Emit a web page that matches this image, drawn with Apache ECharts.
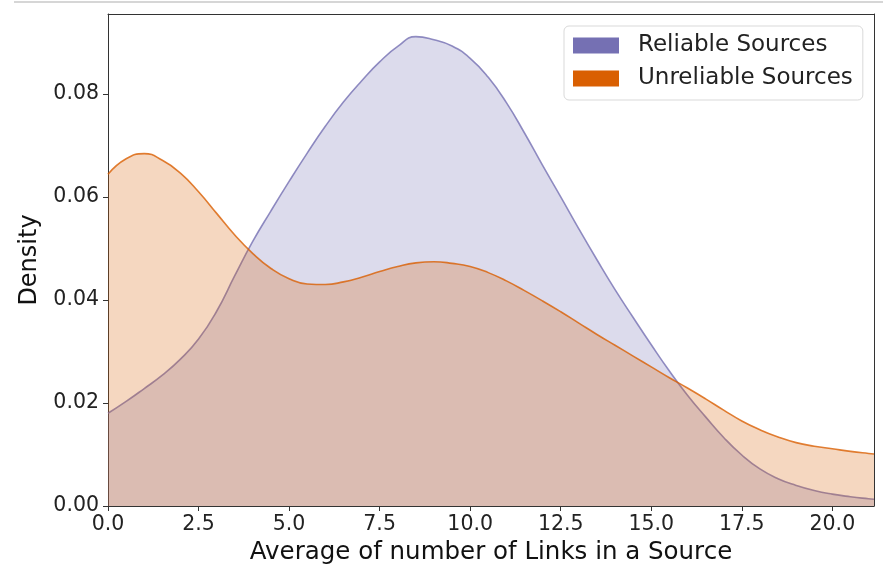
<!DOCTYPE html>
<html>
<head>
<meta charset="utf-8">
<script src="https://cdn.jsdelivr.net/npm/echarts@6/dist/echarts.min.js"></script>
<style>
html,body{margin:0;padding:0;background:#fff;}
#chart{width:883px;height:570px;}
</style>
</head>
<body>
<div id="chart"></div>
<script>
const seriesNames = ['Reliable Sources', 'Unreliable Sources'];
const seriesColors = ['#7570b3', '#d95f02'];

const xValues = [0, 0.5, 1, 1.5, 2, 2.5, 3, 3.5, 4, 4.5, 5, 5.5, 6, 6.5, 7, 7.5, 8, 8.5, 9, 9.5, 10,
  10.5, 11, 11.5, 12, 12.5, 13, 13.5, 14, 14.5, 15, 15.5, 16, 16.5, 17, 17.5, 18, 18.5, 19, 19.5, 20, 20.5, 21, 21.15];

const reliableY = [0.0180, 0.0203, 0.0228, 0.0254, 0.0285, 0.0324, 0.0378, 0.0447, 0.0514, 0.0573, 0.0630,
  0.0685, 0.0737, 0.0784, 0.0825, 0.0862, 0.0892, 0.0911, 0.0905, 0.0893, 0.0869,
  0.0832, 0.0783, 0.0724, 0.0661, 0.0600, 0.0538, 0.0478, 0.0420, 0.0366, 0.0313,
  0.0262, 0.0215, 0.0173, 0.0133, 0.0099, 0.0072, 0.0053, 0.0040, 0.0030, 0.0023, 0.0018, 0.0014, 0.0013];

const unreliableY = [0.0644, 0.0674, 0.0684, 0.0671, 0.0646, 0.0610, 0.0568, 0.0526, 0.0490, 0.0461, 0.0441,
  0.0431, 0.0430, 0.0435, 0.0444, 0.0455, 0.0465, 0.0472, 0.0474, 0.0471, 0.0465,
  0.0453, 0.0437, 0.0418, 0.0398, 0.0377, 0.0355, 0.0333, 0.0312, 0.0291, 0.0270,
  0.0249, 0.0229, 0.0208, 0.0186, 0.0165, 0.0148, 0.0134, 0.0123, 0.0116, 0.0111, 0.0106, 0.0102, 0.0101];

const xTicks = [0, 2.5, 5, 7.5, 10, 12.5, 15, 17.5, 20];
const yTicks = [0, 0.02, 0.04, 0.06, 0.08];
const xMin = 0, xMax = 21.15, yMin = 0, yMax = 0.0955;

const font = 'DejaVu Sans';
const pairs = (xs, ys) => xs.map((x, i) => [x, ys[i]]);

const chart = echarts.init(document.getElementById('chart'), null, {renderer: 'canvas'});
chart.setOption({
  animation: false,
  backgroundColor: '#fff',
  textStyle: {fontFamily: font},
  graphic: [{
    type: 'line', silent: true,
    shape: {x1: 14, y1: 2, x2: 883, y2: 2},
    style: {stroke: '#c8c8c8', lineWidth: 1.5}
  }],
  grid: {left: 108, right: 9, top: 14, bottom: 62, containLabel: false},
  legend: {
    orient: 'vertical',
    left: 564, top: 26,
    padding: [8, 10, 10, 9],
    itemWidth: 46, itemHeight: 16, itemGap: 10,
    icon: 'rect',
    backgroundColor: 'rgba(255,255,255,0.8)',
    borderColor: '#d9d9d9', borderWidth: 1, borderRadius: 5,
    textStyle: {fontFamily: font, fontSize: 23, color: '#222', padding: [0, 0, 0, 14]},
    data: seriesNames.map((n, i) => ({name: n, itemStyle: {color: seriesColors[i], opacity: 1}}))
  },
  xAxis: [{
    type: 'value', min: xMin, max: xMax,
    name: 'Average of number of Links in a Source',
    nameLocation: 'middle', nameGap: 34,
    nameTextStyle: {fontFamily: font, fontSize: 24.5, color: '#111'},
    axisLine: {show: true, onZero: false, lineStyle: {color: '#333', width: 1}},
    axisTick: {show: true, length: 5, lineStyle: {color: '#333'}, customValues: xTicks},
    axisLabel: {fontFamily: font, fontSize: 20.5, color: '#222', margin: 8, customValues: xTicks,
      formatter: v => v.toFixed(1)},
    splitLine: {show: false}
  }, {
    type: 'value', min: xMin, max: xMax, position: 'top',
    axisLine: {show: true, onZero: false, lineStyle: {color: '#333', width: 1}},
    axisTick: {show: false}, axisLabel: {show: false}, splitLine: {show: false}
  }],
  yAxis: [{
    type: 'value', min: yMin, max: yMax,
    name: 'Density',
    nameLocation: 'middle', nameGap: 66,
    nameTextStyle: {fontFamily: font, fontSize: 24, color: '#111'},
    axisLine: {show: true, onZero: false, lineStyle: {color: '#333', width: 1}},
    axisTick: {show: true, length: 5, lineStyle: {color: '#333'}, customValues: yTicks},
    axisLabel: {fontFamily: font, fontSize: 20.5, color: '#222', margin: 9, customValues: yTicks,
      formatter: v => v.toFixed(2)},
    splitLine: {show: false}
  }, {
    type: 'value', min: yMin, max: yMax, position: 'right',
    axisLine: {show: true, onZero: false, lineStyle: {color: '#333', width: 1}},
    axisTick: {show: false}, axisLabel: {show: false}, splitLine: {show: false}
  }],
  series: [{
    name: seriesNames[0], type: 'line', smooth: 0.5, showSymbol: false, symbol: 'none',
    xAxisIndex: 0, yAxisIndex: 0,
    data: pairs(xValues, reliableY),
    itemStyle: {color: seriesColors[0]},
    lineStyle: {color: seriesColors[0], width: 1.6, opacity: 0.8},
    areaStyle: {color: seriesColors[0], opacity: 0.25},
    z: 2
  }, {
    name: seriesNames[1], type: 'line', smooth: 0.5, showSymbol: false, symbol: 'none',
    xAxisIndex: 0, yAxisIndex: 0,
    data: pairs(xValues, unreliableY),
    itemStyle: {color: seriesColors[1]},
    lineStyle: {color: seriesColors[1], width: 1.6, opacity: 0.8},
    areaStyle: {color: seriesColors[1], opacity: 0.25},
    z: 3
  }]
});
</script>
</body>
</html>
